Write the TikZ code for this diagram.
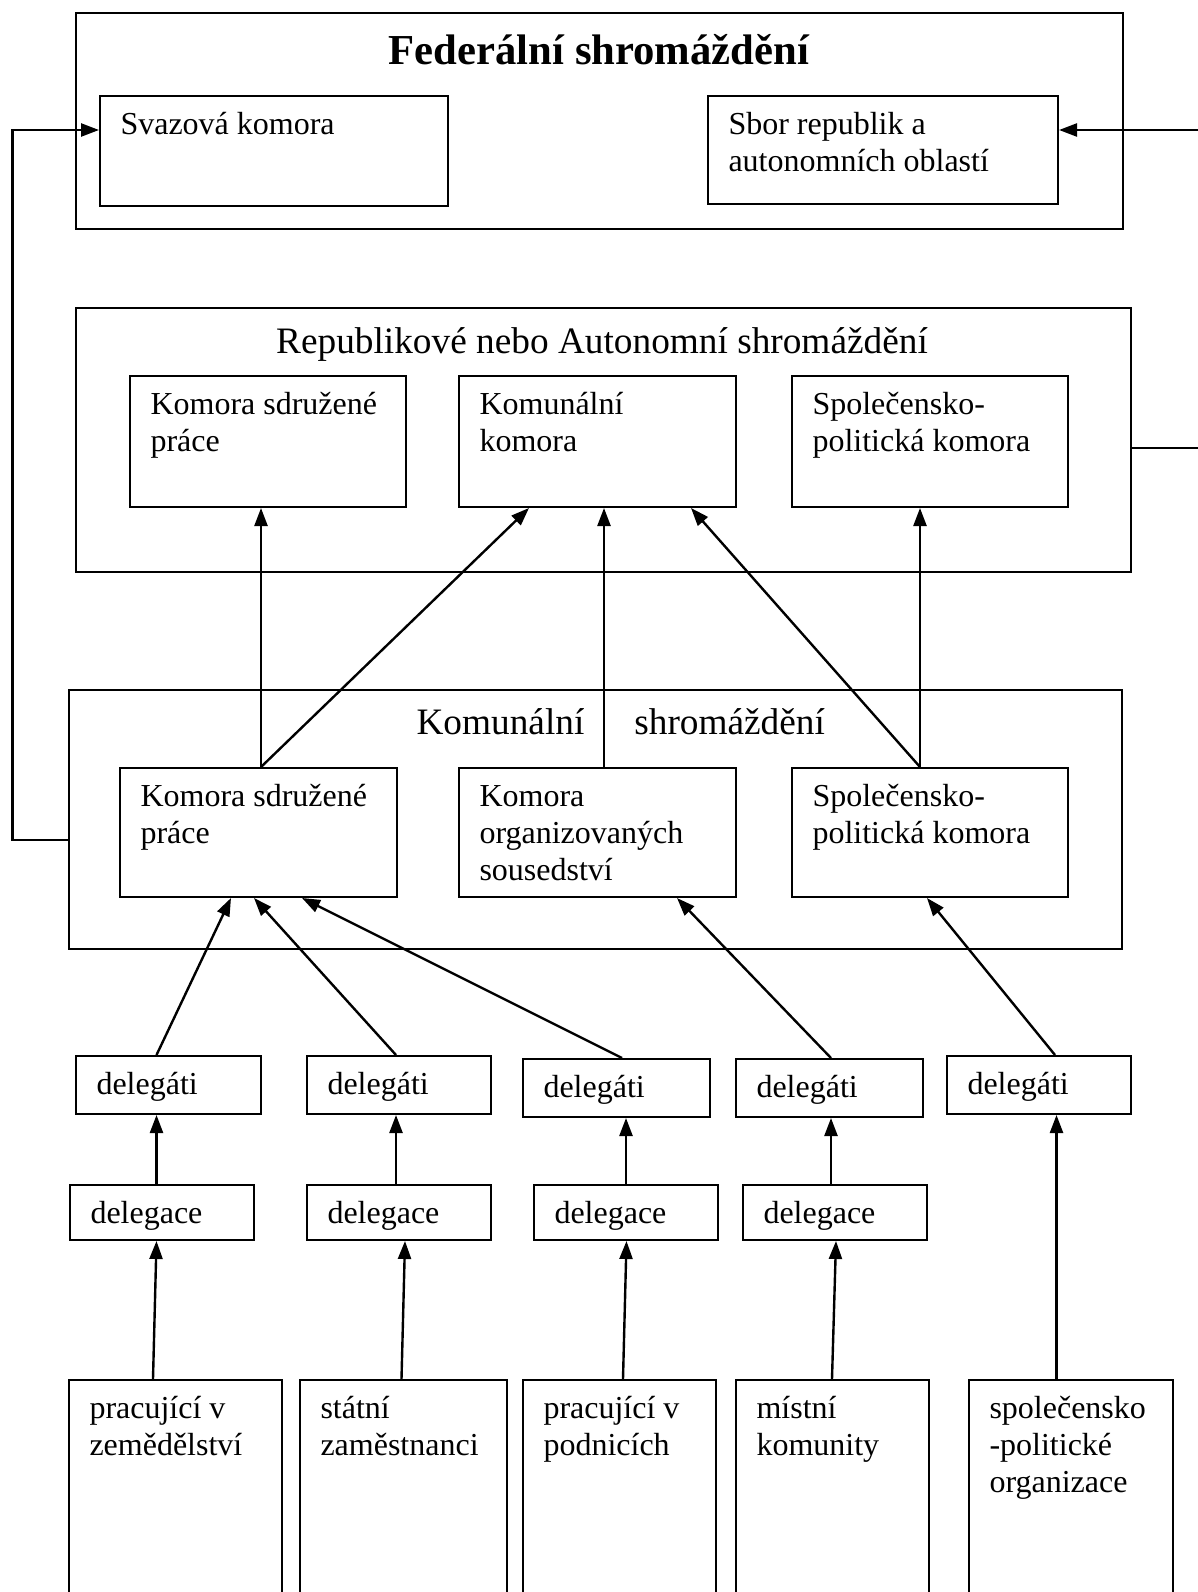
\documentclass[tikz,border=0pt]{standalone}
\usepackage{fontspec}
\setmainfont{Liberation Serif}
\usetikzlibrary{arrows.meta,calc}
\tikzset{
  frame/.style={draw, line width=2pt, anchor=north west, inner sep=0pt},
  tb/.style={draw, line width=2pt, anchor=north west, inner xsep=20.5pt, inner ysep=13pt,
    font=\fontsize{32}{36.8}\selectfont},
  arr/.style={line width=2.4pt, -{Triangle[length=18pt,width=13pt]}},
  ln/.style={line width=2pt}
}
\newcommand\tbox[6]{%
  \node[tb, minimum width=#4pt, minimum height=#5pt] (#1) at (#2,#3)
    {\parbox[t][\dimexpr#5pt-26pt\relax][t]{\dimexpr#4pt-41pt\relax}{\raggedright\strut #6}};}
\begin{document}
\begin{tikzpicture}[x=1pt,y=-1pt]
\useasboundingbox (0,0) rectangle (1198,1592);
\clip (0,0) rectangle (1198,1592);
% Federal
\node[frame, minimum width=1047pt, minimum height=216pt] (fed) at (75,12) {};
\node[anchor=base, font=\fontsize{42.7}{48}\selectfont\bfseries] (fedt) at (599,65) {Federální shromáždění};
\tbox{svaz}{99}{95}{348}{110}{Svazová komora}
\tbox{sbor}{707}{95}{350}{108}{Sbor republik a\\autonomních oblastí}
% Republic
\node[frame, minimum width=1055pt, minimum height=264pt] (rep) at (75,307) {};
\node[anchor=base, font=\fontsize{37.3}{42}\selectfont] (rept) at (602,353) {Republikové nebo Autonomní shromáždění};
\tbox{rksp}{129}{375}{276}{131}{Komora sdružené\\práce}
\tbox{rkk}{458}{375}{277}{131}{Komunální\\komora}
\tbox{rspk}{791}{375}{276}{131}{Společensko-\\politická komora}
% Communal
\node[frame, minimum width=1053pt, minimum height=259pt] (kom) at (68,689) {};
\node[anchor=base west, font=\fontsize{37.3}{42}\selectfont] (komt) at (413,734) {Komunální\hspace{50pt}shromáždění};
\tbox{kksp}{119}{767}{277}{129}{Komora sdružené\\práce}
\tbox{kkos}{458}{767}{277}{129}{Komora\\organizovaných\\sousedství}
\tbox{kspk}{791}{767}{276}{129}{Společensko-\\politická komora}
% delegati
\tbox{d1}{75}{1055}{185}{58}{delegáti}
\tbox{d2}{306}{1055}{184}{58}{delegáti}
\tbox{d3}{522}{1058}{187}{58}{delegáti}
\tbox{d4}{735}{1058}{187}{58}{delegáti}
\tbox{d5}{946}{1055}{184}{58}{delegáti}
% delegace
\tbox{g1}{69}{1184}{184}{55}{delegace}
\tbox{g2}{306}{1184}{184}{55}{delegace}
\tbox{g3}{533}{1184}{184}{55}{delegace}
\tbox{g4}{742}{1184}{184}{55}{delegace}
% bottom
\tbox{b1}{68}{1379}{213}{300}{pracující v\\zemědělství}
\tbox{b2}{299}{1379}{207}{300}{státní\\zaměstnanci}
\tbox{b3}{522}{1379}{193}{300}{pracující v\\podnicích}
\tbox{b4}{735}{1379}{193}{300}{místní\\komunity}
\tbox{b5}{968}{1379}{204}{300}{společensko\\-politické\\organizace}
% side connectors
\coordinate (lx) at (12.5,840);
\coordinate (lt) at (12.5,130);
\draw[arr] ($(kom.north west)+(0,151)$) -- (lx) -- (lt) -- ($(svaz.north west)+(0,35)$);
\coordinate (rx1) at (1215,448);
\coordinate (rx2) at (1215,130);
\draw[arr] ($(rep.north east)+(0,141)$) -- (rx1) -- (rx2) -- ($(sbor.north east)+(0,35)$);
% communal -> republic
\draw[arr] ($(kksp.north west)+(142,0)$) -- ($(rksp.south west)+(132,0)$);
\draw[arr] ($(kksp.north west)+(142,0)$) -- ($(rkk.south west)+(71,0)$);
\draw[arr] ($(kkos.north west)+(146,0)$) -- ($(rkk.south west)+(146,0)$);
\draw[arr] ($(kspk.north west)+(129,0)$) -- ($(rkk.south west)+(233,0)$);
\draw[arr] ($(kspk.north west)+(129,0)$) -- ($(rspk.south west)+(129,0)$);
% delegati -> communal
\draw[arr] ($(d1.north west)+(81.5,0)$) -- ($(kksp.south west)+(112,0)$);
\draw[arr] ($(d2.north west)+(90,0)$) -- ($(kksp.south west)+(135,0)$);
\draw[arr] ($(d3.north west)+(100,0)$) -- ($(kksp.south west)+(183,0)$);
\draw[arr] ($(d4.north west)+(96,0)$) -- ($(kkos.south west)+(219,0)$);
\draw[arr] ($(d5.north west)+(109,0)$) -- ($(kspk.south west)+(136,0)$);
% delegace -> delegati
\draw[arr] ($(g1.north west)+(87.5,0)$) -- ($(d1.south west)+(81.5,0)$);
\draw[arr] ($(g2.north west)+(90,0)$) -- ($(d2.south west)+(90,0)$);
\draw[arr] ($(g3.north west)+(93,0)$) -- ($(d3.south west)+(104,0)$);
\draw[arr] ($(g4.north west)+(89,0)$) -- ($(d4.south west)+(96,0)$);
% bottom -> delegace
\draw[arr] ($(b1.north west)+(85,0)$) -- ($(g1.south west)+(87.5,0)$);
\draw[arr] ($(b2.north west)+(102.5,0)$) -- ($(g2.south west)+(99,0)$);
\draw[arr] ($(b3.north west)+(101,0)$) -- ($(g3.south west)+(93.5,0)$);
\draw[arr] ($(b4.north west)+(97,0)$) -- ($(g4.south west)+(94,0)$);
\draw[arr] ($(b5.north west)+(88.5,0)$) -- ($(d5.south west)+(110.5,0)$);
\end{tikzpicture}
\end{document}
